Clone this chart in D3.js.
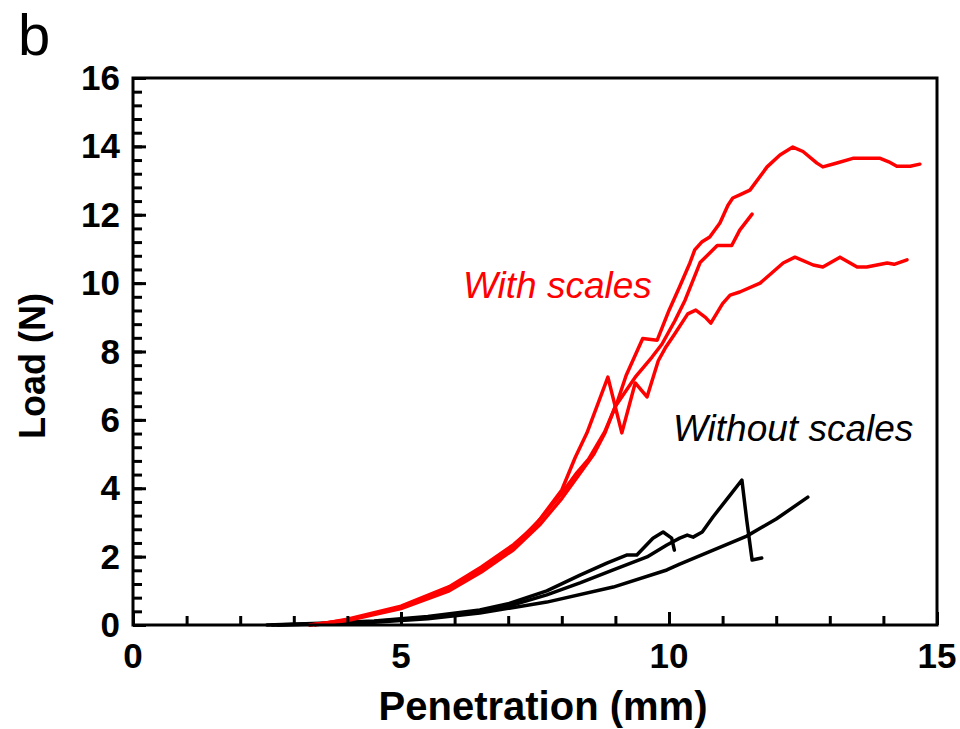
<!DOCTYPE html>
<html>
<head>
<meta charset="utf-8">
<script src="https://cdn.jsdelivr.net/npm/d3@7"></script>
<style>
  body { margin: 0; background: #fff; }
  text { font-family: "Liberation Sans", Arial, sans-serif; }
</style>
</head>
<body>
<script>
// load-penetration curves
var xTicks = [0, 5, 10, 15];
var yTicks = [0, 2, 4, 6, 8, 10, 12, 14, 16];

// with scales (red)
var redA = [[3.3,0],[4.0,0.15],[5.0,0.5],[5.9,1.05],[6.5,1.6],[7.1,2.3],[7.6,3.1],[8.0,3.85],[8.28,4.45],
  [8.5,4.85],[8.8,5.65],[9.03,6.5],[9.2,7.3],[9.51,8.38],[9.78,8.33],[10.0,9.2],[10.2,9.9],[10.39,10.59],
  [10.48,10.97],[10.61,11.2],[10.76,11.35],[10.95,11.76],[11.1,12.28],[11.19,12.49],[11.32,12.58],
  [11.51,12.72],[11.83,13.4],[12.07,13.75],[12.31,13.98],[12.5,13.85],[12.76,13.51],[12.87,13.4],
  [13.1,13.5],[13.43,13.65],[13.94,13.65],[14.1,13.55],[14.25,13.42],[14.5,13.42],[14.68,13.48]];
var redB = [[3.3,0],[4.0,0.13],[5.0,0.48],[5.9,1.0],[6.5,1.55],[7.1,2.2],[7.6,2.95],[8.0,3.7],[8.3,4.35],
  [8.6,5.0],[8.8,5.6],[9.0,6.4],[9.37,7.25],[9.68,7.83],[9.87,8.22],[10.11,8.9],[10.3,9.5],[10.58,10.6],
  [10.9,11.1],[11.17,11.1],[11.32,11.55],[11.55,12.02]];
var redC = [[3.4,0],[4.0,0.17],[5.0,0.55],[5.9,1.12],[6.5,1.7],[7.1,2.35],[7.5,2.9],[8.0,3.95],[8.25,4.9],
  [8.47,5.62],[8.86,7.25],[9.12,5.62],[9.37,7.08],[9.59,6.67],[9.8,7.73],[9.93,8.1],[10.1,8.5],[10.35,9.1],
  [10.5,9.21],[10.68,9.0],[10.78,8.83],[11.0,9.4],[11.14,9.65],[11.32,9.74],[11.7,10.0],[12.13,10.59],
  [12.35,10.76],[12.69,10.53],[12.87,10.47],[13.19,10.76],[13.51,10.47],[13.69,10.47],[14.07,10.59],
  [14.2,10.55],[14.44,10.68]];

// without scales (black)
var blackD = [[2.6,0],[3.5,0.04],[4.5,0.1],[5.5,0.22],[6.47,0.38],[7.0,0.55],[7.72,0.88],[8.34,1.23],
  [8.96,1.61],[9.59,1.99],[9.96,2.34],[10.2,2.54],[10.34,2.63],[10.45,2.57],[10.62,2.72],[10.82,3.16],
  [11.14,3.8],[11.36,4.24],[11.45,3.07],[11.55,1.9],[11.73,1.96]];
var blackE = [[2.5,0],[3.5,0.05],[4.5,0.12],[5.5,0.25],[6.47,0.44],[7.0,0.62],[7.72,1.0],[8.34,1.46],
  [8.84,1.81],[9.22,2.05],[9.4,2.05],[9.7,2.54],[9.89,2.72],[10.05,2.54],[10.1,2.19]];
var blackF = [[2.7,0],[3.5,0.03],[4.5,0.08],[5.5,0.18],[6.47,0.35],[7.72,0.67],[8.96,1.11],[9.96,1.61],
  [10.2,1.78],[11.45,2.6],[12.0,3.1],[12.59,3.74]];

var width = 960;
var height = 729;
var padL = 133, padR = 937, padT = 78, padB = 625;

var svg = d3.select('body').append('svg')
  .attr('width', width)
  .attr('height', height);

var x = d3.scaleLinear().domain([0, 15]).range([padL, padR]);
var y = d3.scaleLinear().domain([0, 16]).range([padB, padT]);

var line = d3.line()
  .x(function(d) { return x(d[0]); })
  .y(function(d) { return y(d[1]); });

// curves
var series = [
  {pts: blackF, color: '#000'}, {pts: blackD, color: '#000'}, {pts: blackE, color: '#000'},
  {pts: redA, color: '#ff0000'}, {pts: redB, color: '#ff0000'}, {pts: redC, color: '#ff0000'}
];
svg.selectAll('path.curve')
  .data(series)
  .enter().append('path')
  .attr('class', 'curve')
  .attr('d', function(d) { return line(d.pts); })
  .attr('fill', 'none')
  .attr('stroke', function(d) { return d.color; })
  .attr('stroke-width', 3.5)
  .attr('stroke-linejoin', 'round')
  .attr('stroke-linecap', 'round');

// minor ticks, inward
var xMinor = d3.range(0, 16, 1);
var yMinor = d3.range(0, 81, 2).map(function(v) { return v / 5; });

svg.append('g')
  .attr('transform', 'translate(0,' + padB + ')')
  .call(d3.axisTop(x).tickValues(xMinor).tickSize(9).tickFormat(''))
  .call(function(g) { g.select('.domain').remove(); });
svg.append('g')
  .attr('transform', 'translate(0,' + padB + ')')
  .call(d3.axisTop(x).tickValues(xTicks).tickSize(13).tickFormat(''))
  .call(function(g) { g.select('.domain').remove(); });
svg.append('g')
  .attr('transform', 'translate(' + padL + ',0)')
  .call(d3.axisRight(y).tickValues(yMinor).tickSize(9).tickFormat(''))
  .call(function(g) { g.select('.domain').remove(); });
svg.append('g')
  .attr('transform', 'translate(' + padL + ',0)')
  .call(d3.axisRight(y).tickValues(yTicks).tickSize(13).tickFormat(''))
  .call(function(g) { g.select('.domain').remove(); });
svg.selectAll('.tick line').attr('stroke', '#000').attr('stroke-width', 3);

// frame
svg.append('rect')
  .attr('x', padL).attr('y', padT)
  .attr('width', padR - padL).attr('height', padB - padT)
  .attr('fill', 'none')
  .attr('stroke', '#000')
  .attr('stroke-width', 3);

// tick labels
svg.selectAll('text.xl')
  .data(xTicks)
  .enter().append('text')
  .attr('class', 'xl')
  .attr('x', function(d) { return x(d); })
  .attr('y', 668)
  .attr('text-anchor', 'middle')
  .attr('font-size', 35)
  .attr('font-weight', 'bold')
  .text(function(d) { return d; });
svg.selectAll('text.yl')
  .data(yTicks)
  .enter().append('text')
  .attr('class', 'yl')
  .attr('x', 120)
  .attr('y', function(d) { return y(d) + 12; })
  .attr('text-anchor', 'end')
  .attr('font-size', 35)
  .attr('font-weight', 'bold')
  .text(function(d) { return d; });

// axis titles
svg.append('text')
  .attr('x', 543).attr('y', 720)
  .attr('text-anchor', 'middle')
  .attr('font-size', 40)
  .attr('font-weight', 'bold')
  .text('Penetration (mm)');
svg.append('text')
  .attr('transform', 'translate(45,' + 366 + ') rotate(-90)')
  .attr('text-anchor', 'middle')
  .attr('font-size', 36)
  .attr('font-weight', 'bold')
  .text('Load (N)');

// panel letter
svg.append('text')
  .attr('x', 18).attr('y', 55)
  .attr('font-size', 58)
  .text('b');

// annotations
svg.append('text')
  .attr('x', 463).attr('y', 298)
  .attr('font-size', 37)
  .attr('font-style', 'italic')
  .attr('fill', '#ff0000')
  .text('With scales');
svg.append('text')
  .attr('x', 673).attr('y', 441)
  .attr('font-size', 37)
  .attr('font-style', 'italic')
  .attr('fill', '#000')
  .text('Without scales');
</script>
</body>
</html>
